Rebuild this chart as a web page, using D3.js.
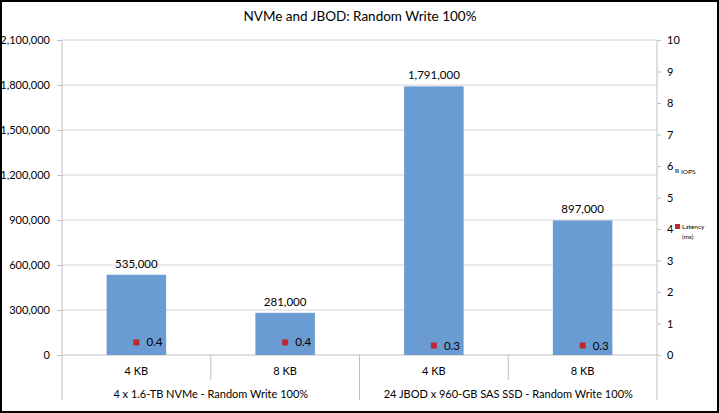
<!DOCTYPE html>
<html><head><meta charset="utf-8">
<script src="https://cdn.jsdelivr.net/npm/d3@7"></script>
<style>body{margin:0;background:#fff}svg{display:block;font-family:Lato,"Open Sans",sans-serif}</style>
</head><body><svg id="c" width="719" height="413"></svg>
<script>
const title = "NVMe and JBOD: Random Write 100%";
const groups = ["4 x 1.6-TB NVMe - Random Write 100%", "24 JBOD x 960-GB SAS SSD - Random Write 100%"];
const blockSizes = ["4 KB", "8 KB", "4 KB", "8 KB"];
const iops = [535000, 281000, 1791000, 897000];
const latency = [0.4, 0.4, 0.3, 0.3];
const leftTicks = [0, 300000, 600000, 900000, 1200000, 1500000, 1800000, 2100000];
const rightTicks = [0,1,2,3,4,5,6,7,8,9,10];

const svg = d3.select("#c");
const m = {l:62, r:657, t:40, b:355};
const x = d3.scaleBand().domain(d3.range(4)).range([m.l, m.r]).paddingInner(0).paddingOuter(0);
const y = d3.scaleLinear().domain([0, 2100000]).range([m.b, m.t]);
const y2 = d3.scaleLinear().domain([0, 10]).range([m.b, m.t]);
const fmt = d3.format(",");
const blue = "#6a9bd2", red = "#c0262d", grid = "#d4d4d4", axisC = "#bfbfbf";

// border
svg.append("rect").attr("x",1).attr("y",1).attr("width",717).attr("height",411).attr("fill","#fff").attr("stroke","#000").attr("stroke-width",2);

svg.append("text").attr("x",360).attr("y",21).attr("text-anchor","middle").attr("font-size",13.5).attr("fill","#000").text(title);

// gridlines
svg.append("g").selectAll("line").data(leftTicks.slice(1)).join("line")
  .attr("x1",m.l).attr("x2",m.r).attr("y1",d=>y(d)).attr("y2",d=>y(d)).attr("stroke",grid);

// left axis
const ga = svg.append("g").attr("transform",`translate(${m.l},0)`)
  .call(d3.axisLeft(y).tickValues(leftTicks).tickFormat(fmt).tickSize(5).tickSizeOuter(0));
ga.select(".domain").remove();
ga.selectAll("line").attr("stroke",axisC);
ga.selectAll("text").attr("font-size",11).attr("fill","#000").attr("font-family","Lato,sans-serif").attr("dx",-4);

// right axis
const gr = svg.append("g").attr("transform",`translate(${m.r},0)`)
  .call(d3.axisRight(y2).tickValues(rightTicks).tickFormat(d3.format("d")).tickSize(4).tickSizeOuter(0));
gr.select(".domain").remove();
gr.selectAll("line").attr("stroke",axisC);
gr.selectAll("text").attr("font-size",11).attr("fill","#000").attr("font-family","Lato,sans-serif").attr("dx",3);

// vertical axis lines
svg.append("line").attr("x1",m.l).attr("x2",m.l).attr("y1",m.t).attr("y2",400).attr("stroke",axisC);
svg.append("line").attr("x1",m.r).attr("x2",m.r).attr("y1",m.t).attr("y2",400).attr("stroke",axisC);
// baseline
svg.append("line").attr("x1",m.l).attr("x2",m.r).attr("y1",m.b).attr("y2",m.b).attr("stroke",axisC);
// category separators
[1,3].forEach(i=>svg.append("line").attr("x1",x(i)).attr("x2",x(i)).attr("y1",m.b).attr("y2",380).attr("stroke",axisC));
svg.append("line").attr("x1",x(2)).attr("x2",x(2)).attr("y1",m.b).attr("y2",400).attr("stroke",axisC);

// bars
const bw = x.bandwidth()*0.4;
svg.append("g").selectAll("rect").data(iops).join("rect")
  .attr("x",(d,i)=>x(i)+x.bandwidth()/2-bw/2).attr("width",bw)
  .attr("y",d=>y(d)).attr("height",d=>y(0)-y(d)).attr("fill",blue);
svg.append("g").selectAll("text").data(iops).join("text")
  .attr("x",(d,i)=>x(i)+x.bandwidth()/2).attr("y",d=>y(d)-7)
  .attr("text-anchor","middle").attr("font-size",11.5).attr("fill","#000").text(d=>fmt(d));

// latency markers
svg.append("g").selectAll("rect").data(latency).join("rect")
  .attr("x",(d,i)=>x(i)+x.bandwidth()/2-3).attr("y",d=>y2(d)-3).attr("width",6).attr("height",6).attr("fill",red);
svg.append("g").selectAll("text").data(latency).join("text")
  .attr("x",(d,i)=>x(i)+x.bandwidth()/2+10).attr("y",d=>y2(d)+4)
  .attr("font-size",11.5).attr("fill","#000").text(d=>d.toFixed(1));

// category labels
svg.append("g").selectAll("text").data(blockSizes).join("text")
  .attr("x",(d,i)=>x(i)+x.bandwidth()/2).attr("y",375).attr("text-anchor","middle")
  .attr("font-size",11).attr("fill","#000").text(d=>d);
svg.append("g").selectAll("text").data(groups).join("text")
  .attr("x",(d,i)=>(x(i*2)+x(i*2+1)+x.bandwidth())/2).attr("y",398).attr("text-anchor","middle")
  .attr("font-size",11).attr("fill","#000").text(d=>d);

// legend
const lg = svg.append("g");
lg.append("rect").attr("x",675).attr("y",169).attr("width",4).attr("height",4).attr("fill",blue);
lg.append("text").attr("x",681).attr("y",173.5).attr("font-size",6.5).attr("fill","#000").text("IOPS");
lg.append("rect").attr("x",675).attr("y",224).attr("width",5).attr("height",5).attr("fill",red);
lg.append("text").attr("x",682).attr("y",229).attr("font-size",6.5).attr("fill","#000").text("Latency");
lg.append("text").attr("x",682).attr("y",239).attr("font-size",6.5).attr("fill","#000").text("(ms)");
</script></body></html>
